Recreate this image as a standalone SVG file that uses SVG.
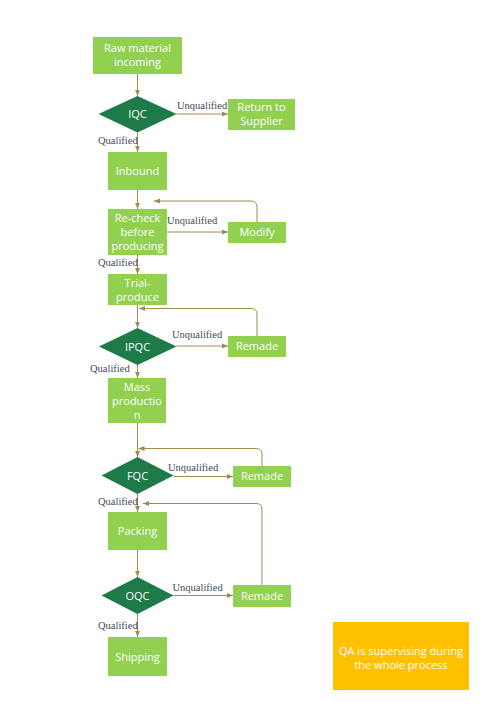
<svg xmlns="http://www.w3.org/2000/svg" width="491" height="713" viewBox="0 0 491 713">
<style>
.box{fill:#92D050;}
.dia{fill:#1F7A4A;}
.t{font-family:"Open Sans","Noto Sans",sans-serif;font-size:11px;fill:#ffffff;text-anchor:middle;}
.lbl{font-family:"Liberation Serif",serif;font-size:10.5px;fill:#3F4A5A;}
.c{fill:none;stroke:#A08A50;stroke-width:1;marker-end:url(#ah);}
</style>
<defs>
<marker id="ah" viewBox="0 0 10 10" refX="10" refY="5" markerWidth="6" markerHeight="6" markerUnits="userSpaceOnUse" orient="auto">
<path d="M0,1 L10,5 L0,9 z" fill="#A08A50"/>
</marker>
</defs>
<rect width="491" height="713" fill="#ffffff"/>
<g id="connectors">
<path class="c" d="M137.5,74 V96"/>
<path class="c" d="M176.5,114 H228"/>
<path class="c" d="M137.5,132.5 V152"/>
<path class="c" d="M137.5,190 V209"/>
<path class="c" d="M167,232 H228"/>
<path class="c" d="M257,222 V207 Q257,201 251,201 H154"/>
<path class="c" d="M137.5,255 V274"/>
<path class="c" d="M137.5,305 V328"/>
<path class="c" d="M257,336 V314 Q257,308.5 251,308.5 H139"/>
<path class="c" d="M176.5,346 H228"/>
<path class="c" d="M137.5,365 V378"/>
<path class="c" d="M137.5,423 V457"/>
<path class="c" d="M262,466 V454 Q262,448.5 256,448.5 H138.5"/>
<path class="c" d="M173.5,476.5 H233"/>
<path class="c" d="M137.5,494 V512"/>
<path class="c" d="M262,585 V509 Q262,503.5 256,503.5 H143"/>
<path class="c" d="M137.5,550 V577"/>
<path class="c" d="M173.5,595.5 H233"/>
<path class="c" d="M137.5,614 V637"/>
</g>
<g id="labels">
<text class="lbl" x="177" y="109">Unqualified</text>
<text class="lbl" x="98" y="144">Qualified</text>
<text class="lbl" x="167" y="224">Unqualified</text>
<text class="lbl" x="98" y="266">Qualified</text>
<text class="lbl" x="172" y="338">Unqualified</text>
<text class="lbl" x="90" y="372">Qualified</text>
<text class="lbl" x="168" y="471">Unqualified</text>
<text class="lbl" x="98" y="505">Qualified</text>
<text class="lbl" x="172.5" y="591">Unqualified</text>
<text class="lbl" x="98" y="629">Qualified</text>
</g>
<g id="raw">
<rect class="box" x="93" y="37" width="89" height="37"/>
<text class="t" x="137.5" y="52">Raw material</text>
<text class="t" x="137.5" y="66">incoming</text>
</g>
<g id="iqc">
<polygon class="dia" points="137.5,96 176.5,114 137.5,132.5 98.5,114"/>
<text class="t" x="137.5" y="118">IQC</text>
</g>
<g id="return">
<rect class="box" x="228" y="99" width="67" height="31"/>
<text class="t" x="261.5" y="111">Return to</text>
<text class="t" x="261.5" y="125">Supplier</text>
</g>
<g id="inbound">
<rect class="box" x="108" y="152" width="59" height="38"/>
<text class="t" x="137.5" y="175">Inbound</text>
</g>
<g id="recheck">
<rect class="box" x="108" y="209" width="59" height="46"/>
<text class="t" x="137.5" y="222">Re-check</text>
<text class="t" x="137.5" y="236">before</text>
<text class="t" x="137.5" y="250">producing</text>
</g>
<g id="modify">
<rect class="box" x="228" y="222" width="58" height="21"/>
<text class="t" x="257" y="236">Modify</text>
</g>
<g id="trial">
<rect class="box" x="108" y="274" width="59" height="31"/>
<text class="t" x="137.5" y="286.5">Trial-</text>
<text class="t" x="137.5" y="300.5">produce</text>
</g>
<g id="ipqc">
<polygon class="dia" points="137.5,328 176.5,346.5 137.5,365 99,346.5"/>
<text class="t" x="137.5" y="350.5">IPQC</text>
</g>
<g id="remade1">
<rect class="box" x="228" y="336" width="58" height="21"/>
<text class="t" x="257" y="350">Remade</text>
</g>
<g id="mass">
<rect class="box" x="108" y="378" width="58" height="45"/>
<text class="t" x="137" y="390.5">Mass</text>
<text class="t" x="137" y="404.5">productio</text>
<text class="t" x="137" y="418.5">n</text>
</g>
<g id="fqc">
<polygon class="dia" points="137.5,457 173.5,475.5 137.5,494 101.5,475.5"/>
<text class="t" x="137.5" y="479.5">FQC</text>
</g>
<g id="remade2">
<rect class="box" x="233" y="466" width="58" height="21"/>
<text class="t" x="262" y="480">Remade</text>
</g>
<g id="packing">
<rect class="box" x="108" y="512" width="59" height="38"/>
<text class="t" x="137.5" y="535">Packing</text>
</g>
<g id="oqc">
<polygon class="dia" points="137.5,577 173.5,595.5 137.5,614 101.5,595.5"/>
<text class="t" x="137.5" y="599.5">OQC</text>
</g>
<g id="remade3">
<rect class="box" x="233" y="585" width="58" height="22"/>
<text class="t" x="262" y="599.5">Remade</text>
</g>
<g id="shipping">
<rect class="box" x="108" y="637" width="59" height="39"/>
<text class="t" x="137.5" y="660.5">Shipping</text>
</g>
<g id="qa">
<rect x="333" y="622" width="136" height="68" fill="#FFC000"/>
<text class="t" x="401" y="654.5">QA is supervising during</text>
<text class="t" x="401" y="668.5">the whole process</text>
</g>
</svg>
